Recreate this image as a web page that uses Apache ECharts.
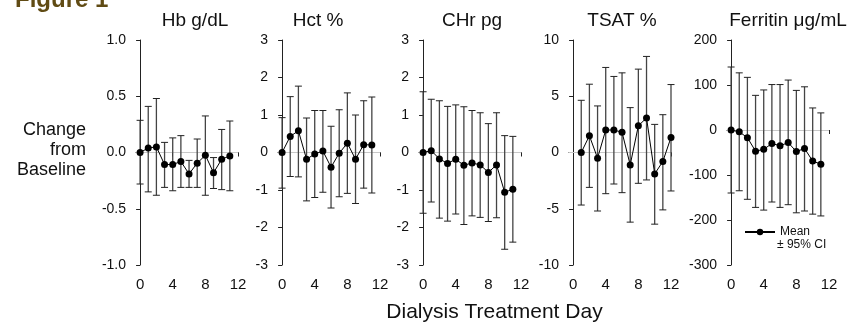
<!DOCTYPE html>
<html>
<head>
<meta charset="utf-8">
<script src="https://cdn.jsdelivr.net/npm/echarts@6/dist/echarts.min.js"></script>
<style>
  html, body { margin: 0; padding: 0; background: #fff; }
  #chart { width: 855px; height: 324px; }
</style>
</head>
<body>
<div id="chart"></div>
<script>
// days for each panel (TSAT is shifted by one day)
const days = [0, 1, 2, 3, 4, 5, 6, 7, 8, 9, 10, 11]
const tsatDays = [1, 2, 3, 4, 5, 6, 7, 8, 9, 10, 11, 12]
const xTicks = [0, 4, 8, 12]

// Hb g/dL
const hbMean = [0, 0.04, 0.05, -0.107, -0.107, -0.08, -0.19, -0.095, -0.024, -0.18, -0.06, -0.03]
const hbLow = [-0.28, -0.35, -0.38, -0.31, -0.34, -0.31, -0.31, -0.31, -0.38, -0.32, -0.33, -0.34]
const hbHigh = [0.286, 0.41, 0.48, 0.09, 0.13, 0.15, -0.07, 0.12, 0.325, -0.045, 0.205, 0.28]

// Hct %
const hctMean = [0, 0.43, 0.58, -0.18, -0.04, 0.04, -0.39, -0.02, 0.25, -0.18, 0.21, 0.2]
const hctLow = [-0.95, -0.64, -0.65, -1.29, -1.2, -1.06, -1.48, -1.18, -1.09, -1.36, -0.95, -1.08]
const hctHigh = [0.93, 1.49, 1.77, 0.92, 1.12, 1.12, 0.7, 1.14, 1.59, 1.0, 1.38, 1.48]

// CHr pg
const chrMean = [0, 0.05, -0.17, -0.29, -0.18, -0.34, -0.28, -0.33, -0.53, -0.33, -1.06, -0.98]
const chrLow = [-1.62, -1.32, -1.75, -1.83, -1.64, -1.92, -1.69, -1.73, -1.84, -1.74, -2.58, -2.39]
const chrHigh = [1.62, 1.42, 1.38, 1.23, 1.27, 1.22, 1.12, 1.06, 0.77, 1.06, 0.45, 0.43]

// TSAT %
const tsatMean = [0, 1.49, -0.5, 2.0, 2.0, 1.8, -1.1, 2.38, 3.07, -1.9, -0.8, 1.34]
const tsatLow = [-4.67, -3.1, -5.2, -3.66, -2.8, -3.57, -6.19, -2.74, -2.44, -6.37, -5.1, -3.42]
const tsatHigh = [4.64, 6.07, 4.14, 7.56, 6.76, 7.08, 3.99, 7.41, 8.54, 2.5, 3.36, 6.04]

// Ferritin µg/mL
const ferMean = [0, -4, -17, -47, -43, -30, -35, -28, -48, -41, -69, -76]
const ferLow = [-140, -135, -154, -172, -178, -160, -172, -166, -184, -180, -187, -191]
const ferHigh = [140, 127, 117, 77, 89, 101, 101, 111, 88, 96, 49, 38]

const panels = [
  { title: 'Hb g/dL', x: days, mean: hbMean, low: hbLow, high: hbHigh, min: -1, max: 1, step: 0.5, dec: 1 },
  { title: 'Hct %', x: days, mean: hctMean, low: hctLow, high: hctHigh, min: -3, max: 3, step: 1, dec: 0 },
  { title: 'CHr pg', x: days, mean: chrMean, low: chrLow, high: chrHigh, min: -3, max: 3, step: 1, dec: 0 },
  { title: 'TSAT %', x: tsatDays, mean: tsatMean, low: tsatLow, high: tsatHigh, min: -10, max: 10, step: 5, dec: 0 },
  { title: 'Ferritin \u03bcg/mL', x: days, mean: ferMean, low: ferLow, high: ferHigh, min: -300, max: 200, step: 100, dec: 0 }
]

const gridLeft = [136, 278, 419, 569, 727]
const titleX = [195, 318, 472, 622, 788]
const font = "'Liberation Sans', Arial, sans-serif"
const axisColor = '#222'

const chart = echarts.init(document.getElementById('chart'), null, { renderer: 'canvas' })

function errorBar(params, api) {
  const x = api.value(0)
  const top = api.coord([x, api.value(2)])
  const bot = api.coord([x, api.value(1)])
  const w = 3.5
  const st = { stroke: '#444', lineWidth: 1.3 }
  const cap = { stroke: '#222', lineWidth: 1 }
  return {
    type: 'group',
    children: [
      { type: 'line', shape: { x1: top[0], y1: top[1], x2: bot[0], y2: bot[1] }, style: st },
      { type: 'line', shape: { x1: top[0] - w, y1: top[1], x2: top[0] + w, y2: top[1] }, style: cap },
      { type: 'line', shape: { x1: bot[0] - w, y1: bot[1], x2: bot[0] + w, y2: bot[1] }, style: cap }
    ]
  }
}

const grid = []
const xAxis = []
const yAxis = []
const series = []
const graphic = []

panels.forEach((p, i) => {
  grid.push({ left: gridLeft[i], top: 40, width: 102, height: 225 })
  xAxis.push({
    type: 'value', gridIndex: i, min: -0.5, max: 12,
    splitLine: { show: false },
    axisLine: { lineStyle: { color: axisColor, width: 1 } },
    axisTick: { show: true, length: 4, customValues: xTicks, lineStyle: { color: axisColor } },
    axisLabel: { customValues: xTicks, margin: 12, fontSize: 15, color: '#111', fontFamily: font }
  })
  yAxis.push({
    type: 'value', gridIndex: i, min: p.min, max: p.max, interval: p.step,
    splitLine: { show: false },
    axisLine: { show: true, lineStyle: { color: axisColor, width: 1 } },
    axisTick: { show: true, length: 4, lineStyle: { color: axisColor } },
    axisLabel: {
      margin: 10, fontSize: 14, color: '#111', fontFamily: font,
      formatter: v => v.toFixed(p.dec)
    }
  })
  series.push({
    type: 'custom', xAxisIndex: i, yAxisIndex: i, z: 6, silent: true,
    renderItem: errorBar,
    encode: { x: 0, y: [1, 2] },
    data: p.x.map((d, k) => [d, p.low[k], p.high[k]]),
    markLine: {
      silent: true, symbol: 'none', label: { show: false },
      lineStyle: { color: '#c8c8c8', width: 1, type: 'solid' },
      data: [{ yAxis: 0 }]
    }
  })
  series.push({
    name: 'Mean', type: 'line', xAxisIndex: i, yAxisIndex: i, z: 10,
    symbol: 'circle', symbolSize: 7,
    itemStyle: { color: '#000' },
    lineStyle: { color: '#000', width: 1 },
    data: p.x.map((d, k) => [d, p.mean[k]])
  })
  graphic.push({
    type: 'text', x: titleX[i], y: 20.5,
    style: { text: p.title, font: '19px ' + font, fill: '#111', align: 'center', verticalAlign: 'middle' }
  })
})

graphic.push({
  type: 'text', x: 15, y: 0,
  style: { text: 'Figure 1', font: 'bold 24px ' + font, fill: '#604b14', align: 'left', verticalAlign: 'middle' }
})
graphic.push({
  type: 'text', x: 86, y: 150,
  style: { text: 'Change\nfrom\nBaseline', font: '18px ' + font, lineHeight: 20, fill: '#111', align: 'right', verticalAlign: 'middle' }
})
graphic.push({
  type: 'text', x: 494.5, y: 312.5,
  style: { text: 'Dialysis Treatment Day', font: '21px ' + font, fill: '#111', align: 'center', verticalAlign: 'middle' }
})
graphic.push({
  type: 'text', x: 777, y: 245,
  style: { text: '\u00b1 95% CI', font: '12px ' + font, fill: '#111', align: 'left', verticalAlign: 'middle' }
})

chart.setOption({
  animation: false,
  backgroundColor: '#fff',
  legend: {
    data: ['Mean'], left: 739, top: 221, itemWidth: 30, itemHeight: 8, itemGap: 0,
    textStyle: { fontSize: 12, color: '#111', fontFamily: font }
  },
  grid, xAxis, yAxis, series, graphic
})

window.addEventListener('resize', () => chart.resize())
</script>
</body>
</html>
